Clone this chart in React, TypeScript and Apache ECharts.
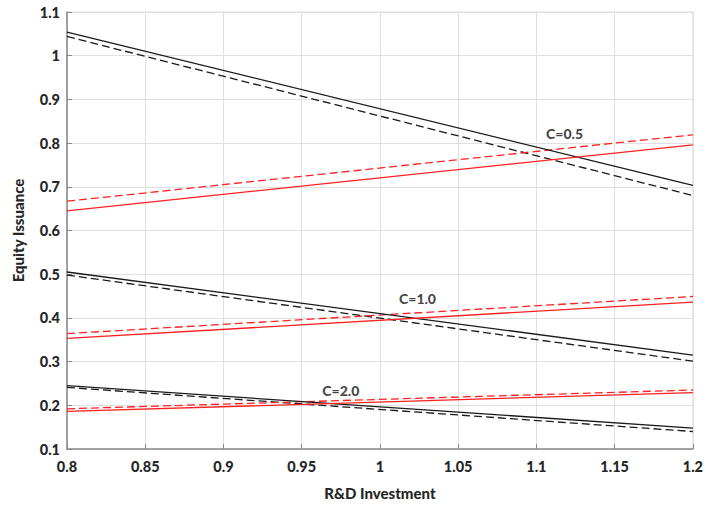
import React, { useEffect, useRef } from "react";
import * as echarts from "echarts";

const xEnds = [0.8, 1.2];

// C = 0.5
const c05BlackSolid = [1.054, 0.703];
const c05BlackDashed = [1.044, 0.68];
const c05RedSolid = [0.645, 0.796];
const c05RedDashed = [0.667, 0.819];
// C = 1.0
const c10BlackSolid = [0.505, 0.315];
const c10BlackDashed = [0.498, 0.301];
const c10RedSolid = [0.353, 0.436];
const c10RedDashed = [0.364, 0.449];
// C = 2.0
const c20BlackSolid = [0.245, 0.148];
const c20BlackDashed = [0.241, 0.14];
const c20RedSolid = [0.186, 0.229];
const c20RedDashed = [0.192, 0.235];

const labelNames = ["C=0.5", "C=1.0", "C=2.0"];
const labelX = [1.118, 1.024, 0.975];
const labelY = [0.823, 0.444, 0.235];

const FONT = "Lato";

function lineSeries(vals: number[], color: string, dashed: boolean) {
  return {
    type: "line",
    data: xEnds.map((x, i) => [x, vals[i]]),
    symbol: "none",
    lineStyle: { color, width: 1.3, type: dashed ? [8, 4] : "solid" },
    z: dashed ? 3 : 4,
  };
}

export default function App() {
  const ref = useRef<HTMLDivElement>(null);
  useEffect(() => {
    const chart = echarts.init(ref.current!, null, { renderer: "svg" });
    const axisLabel = { color: "#262626", fontFamily: FONT, fontWeight: 900, fontSize: 14.5 };
    chart.setOption({
      animation: false,
      backgroundColor: "#fff",
      grid: { left: 67, right: 8, top: 12, bottom: 53, show: true, borderColor: "#e0e0e0", borderWidth: 1 },
      xAxis: {
        type: "value",
        min: 0.8,
        max: 1.2,
        interval: 0.05,
        name: "R&D Investment",
        nameLocation: "middle",
        nameGap: 36,
        nameTextStyle: { color: "#262626", fontFamily: FONT, fontWeight: 900, fontSize: 15 },
        axisLine: { show: true, lineStyle: { color: "#888", width: 1.5 } },
        axisTick: { show: true, inside: true, length: 5, lineStyle: { color: "#888" } },
        axisLabel: { ...axisLabel, margin: 10 },
        splitLine: { show: true, lineStyle: { color: "#e0e0e0", width: 1 } },
      },
      yAxis: {
        type: "value",
        min: 0.1,
        max: 1.1,
        interval: 0.1,
        name: "Equity Issuance",
        nameLocation: "middle",
        nameGap: 42,
        nameTextStyle: { color: "#262626", fontFamily: FONT, fontWeight: 900, fontSize: 15 },
        axisLine: { show: true, lineStyle: { color: "#888", width: 1.5 } },
        axisTick: { show: true, inside: true, length: 5, lineStyle: { color: "#888" } },
        axisLabel: { ...axisLabel, margin: 7, formatter: (v: number) => String(Math.round(v * 10) / 10) },
        splitLine: { show: true, lineStyle: { color: "#e0e0e0", width: 1 } },
      },
      series: [
        lineSeries(c05BlackSolid, "#1a1a1a", false),
        lineSeries(c05BlackDashed, "#1a1a1a", true),
        lineSeries(c05RedSolid, "#ff2020", false),
        lineSeries(c05RedDashed, "#ff2020", true),
        lineSeries(c10BlackSolid, "#1a1a1a", false),
        lineSeries(c10BlackDashed, "#1a1a1a", true),
        lineSeries(c10RedSolid, "#ff2020", false),
        lineSeries(c10RedDashed, "#ff2020", true),
        lineSeries(c20BlackSolid, "#1a1a1a", false),
        lineSeries(c20BlackDashed, "#1a1a1a", true),
        lineSeries(c20RedSolid, "#ff2020", false),
        lineSeries(c20RedDashed, "#ff2020", true),
        {
          type: "scatter",
          symbolSize: 0,
          z: 10,
          data: labelNames.map((n, i) => ({ value: [labelX[i], labelY[i]], name: n })),
          label: {
            show: true,
            position: "inside",
            formatter: (p: any) => p.name,
            color: "#111",
            fontFamily: FONT,
            fontWeight: 900,
            fontSize: 14,
          },
        },
      ],
    });
    return () => chart.dispose();
  }, []);
  return (
    <div
      ref={ref}
      style={{ position: "absolute", left: 0, top: 0, width: 706, height: 505 }}
    />
  );
}
